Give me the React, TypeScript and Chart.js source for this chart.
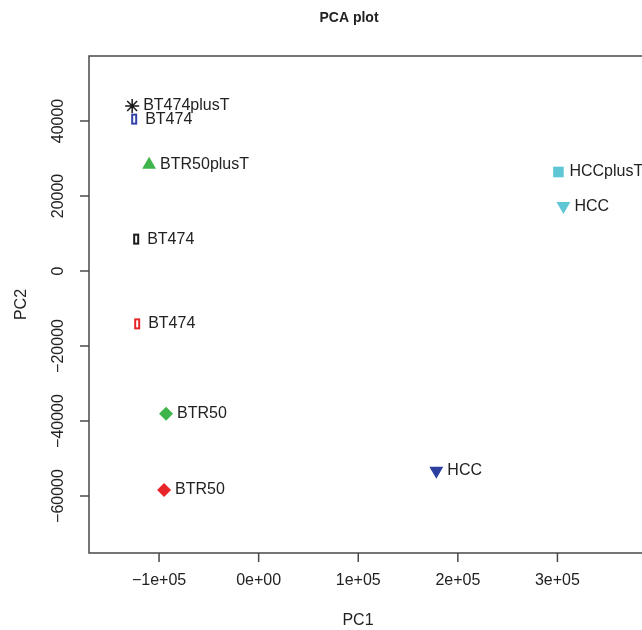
import React, { useEffect, useRef } from "react";
import { Chart, registerables } from "chart.js";

Chart.register(...registerables);

// ---- data ----
const sampleNames = [
  "BT474plusT",
  "BT474",
  "BTR50plusT",
  "HCCplusT",
  "HCC",
  "BT474",
  "BT474",
  "BTR50",
  "BTR50",
  "HCC",
];
const pc1Values = [-127000, -125000, -110000, 301000, 306000, -123000, -122000, -93000, -95000, 178400];
const pc2Values = [44000, 40500, 28300, 26400, 17300, 8500, -14100, -38100, -58400, -53300];

const markerShapes = [
  "asterisk",
  "openRect",
  "triangleUp",
  "square",
  "triangleDown",
  "openRect",
  "openRect",
  "diamond",
  "diamond",
  "triangleDown",
];
const markerColors = [
  "#1a1a1a",
  "#3441a8",
  "#3db54a",
  "#5ec6d5",
  "#5ec6d5",
  "#1a1a1a",
  "#e8262a",
  "#3db54a",
  "#e8262a",
  "#2c3f9e",
];

const xTickValues = [-100000, 0, 100000, 200000, 300000];
const xTickLabels = ["\u22121e+05", "0e+00", "1e+05", "2e+05", "3e+05"];
const yTickValues = [-60000, -40000, -20000, 0, 20000, 40000];
const yTickLabels = ["\u221260000", "\u221240000", "\u221220000", "0", "20000", "40000"];
const xLimits = [-170350, 384900];
const yLimits = [-75200, 57330];

const chartTitle = "PCA plot";
const xTitle = "PC1";
const yTitle = "PC2";

const FONT = '"Liberation Sans", Arial, Helvetica, sans-serif';
const TEXT = "#222222";
const AXIS = "#4a4a4a";

function makeOpenRect(color: string): HTMLCanvasElement {
  const c = document.createElement("canvas");
  c.width = 8;
  c.height = 13;
  const g = c.getContext("2d")!;
  g.strokeStyle = color;
  g.lineWidth = 2;
  g.strokeRect(2, 2, 4, 9);
  return c;
}

const rAxesPlugin = {
  id: "rAxes",
  afterDraw(chart: any) {
    const { ctx, chartArea: a, scales } = chart;
    const x = scales.x;
    const y = scales.y;
    ctx.save();
    // frame (right side lies outside the visible area)
    ctx.strokeStyle = AXIS;
    ctx.lineWidth = 1.5;
    ctx.beginPath();
    ctx.moveTo(a.right + 10, a.top);
    ctx.lineTo(a.left, a.top);
    ctx.lineTo(a.left, a.bottom);
    ctx.lineTo(a.right + 10, a.bottom);
    ctx.stroke();

    ctx.font = `16px ${FONT}`;
    ctx.fillStyle = TEXT;
    ctx.textAlign = "center";
    ctx.textBaseline = "middle";

    // x ticks
    xTickValues.forEach((v, i) => {
      const px = x.getPixelForValue(v);
      ctx.beginPath();
      ctx.moveTo(px, a.bottom);
      ctx.lineTo(px, a.bottom + 9);
      ctx.stroke();
      ctx.fillText(xTickLabels[i], px, a.bottom + 28);
    });

    // y ticks (labels parallel to axis)
    yTickValues.forEach((v, i) => {
      const py = y.getPixelForValue(v);
      ctx.beginPath();
      ctx.moveTo(a.left - 9, py);
      ctx.lineTo(a.left, py);
      ctx.stroke();
      ctx.save();
      ctx.translate(a.left - 30, py);
      ctx.rotate(-Math.PI / 2);
      ctx.fillText(yTickLabels[i], 0, 0);
      ctx.restore();
    });

    // axis titles
    ctx.fillText(xTitle, 358, a.bottom + 68);
    ctx.save();
    ctx.translate(22, (a.top + a.bottom) / 2);
    ctx.rotate(-Math.PI / 2);
    ctx.fillText(yTitle, 0, 0);
    ctx.restore();

    // main title
    ctx.font = `bold 14px ${FONT}`;
    ctx.fillText(chartTitle, 349, 18);

    // point labels
    ctx.font = `16px ${FONT}`;
    ctx.textAlign = "left";
    const meta = chart.getDatasetMeta(0);
    meta.data.forEach((el: any, i: number) => {
      ctx.fillText(sampleNames[i], el.x + 11, el.y);
    });
    ctx.restore();
  },
};

export default function App() {
  const ref = useRef<HTMLCanvasElement>(null);

  useEffect(() => {
    const canvas = ref.current;
    if (!canvas) return;

    const pointStyles = markerShapes.map((s, i) => {
      switch (s) {
        case "asterisk":
          return "star";
        case "openRect":
          return makeOpenRect(markerColors[i]);
        case "triangleUp":
        case "triangleDown":
          return "triangle";
        case "square":
          return "rect";
        case "diamond":
          return "rectRot";
        default:
          return "circle";
      }
    });
    const radii = markerShapes.map((s) =>
      s === "asterisk" ? 7 : s === "triangleUp" || s === "triangleDown" ? 8 : s === "square" ? 7.5 : s === "diamond" ? 7 : 6
    );
    const rotations = markerShapes.map((s) => (s === "triangleDown" ? 180 : 0));
    const borderWidths = markerShapes.map((s) => (s === "asterisk" ? 1.5 : 0));

    const chart = new Chart(canvas, {
      type: "scatter",
      data: {
        datasets: [
          {
            data: pc1Values.map((v, i) => ({ x: v, y: pc2Values[i] })),
            pointStyle: pointStyles as any,
            pointRadius: radii,
            pointRotation: rotations,
            pointBackgroundColor: markerColors,
            pointBorderColor: markerColors,
            pointBorderWidth: borderWidths,
            clip: false as any,
          },
        ],
      },
      options: {
        responsive: false,
        animation: false,
        devicePixelRatio: 1,
        layout: { autoPadding: false, padding: { left: 89, top: 56, right: 0, bottom: 77 } },
        plugins: {
          legend: { display: false },
          tooltip: { enabled: false },
          title: { display: false },
        },
        scales: {
          x: { type: "linear", display: false, min: xLimits[0], max: xLimits[1] },
          y: { type: "linear", display: false, min: yLimits[0], max: yLimits[1] },
        },
      },
      plugins: [rAxesPlugin],
    });
    return () => chart.destroy();
  }, []);

  return (
    <div
      style={{
        position: "fixed",
        left: 0,
        top: 0,
        width: 642,
        height: 630,
        background: "#ffffff",
        overflow: "hidden",
      }}
    >
      <canvas ref={ref} width={642} height={630} style={{ width: 642, height: 630, display: "block" }} />
    </div>
  );
}
